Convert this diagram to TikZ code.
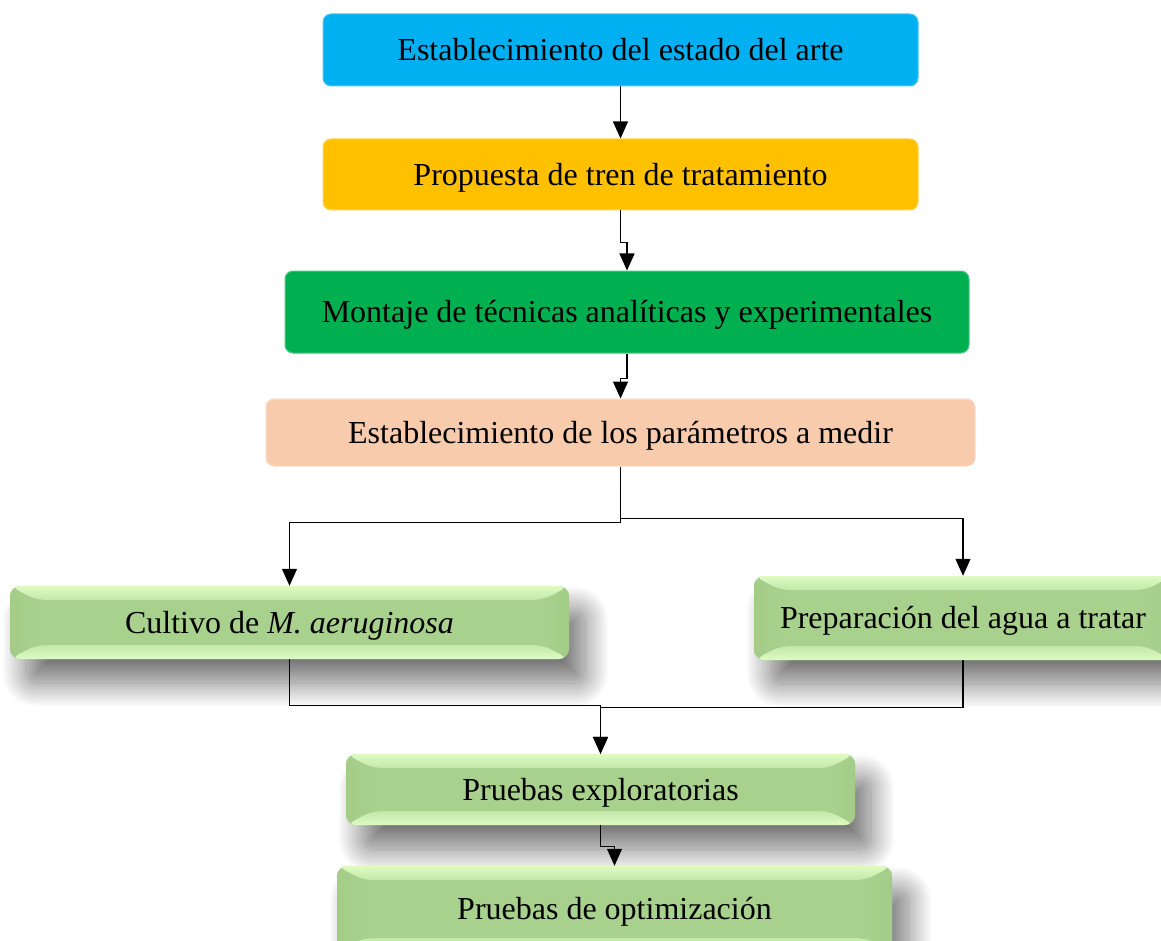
\documentclass[tikz,border=0pt]{standalone}
\usepackage{fontspec}
\setmainfont{Liberation Serif}
\usetikzlibrary{arrows.meta, shadows.blur}

\definecolor{celeste}{HTML}{00B0F0}
\definecolor{ambar}{HTML}{FFC000}
\definecolor{verde}{HTML}{00B050}
\definecolor{durazno}{HTML}{F8CBAD}
\definecolor{gmedio}{HTML}{A9D18E}
\definecolor{gclaro}{HTML}{DDFCC4}
\definecolor{gbisel}{HTML}{A3CC87}

\tikzset{
	texto/.style={inner sep=0pt, text depth=0.25ex, font=\fontsize{32}{38}\selectfont},
	caja/.style={texto, rounded corners=8pt, fill=#1, draw=#1!70!white, line width=1pt},
	cajav/.style={texto, rounded corners=10pt, fill=gmedio,
		blur shadow={shadow xshift=16pt, shadow yshift=-24pt, shadow blur radius=24pt, shadow blur steps=30, shadow opacity=55},
		path picture={
			\coordinate (nw) at (path picture bounding box.north west);
			\coordinate (ne) at (path picture bounding box.north east);
			\coordinate (sw) at (path picture bounding box.south west);
			\coordinate (se) at (path picture bounding box.south east);
			\shade[left color=gbisel, right color=gmedio] (nw) -- ([shift={(26pt,-14pt)}]nw) -- ([shift={(26pt,14pt)}]sw) -- (sw) -- cycle;
			\shade[left color=gmedio, right color=gbisel] (ne) -- ([shift={(-26pt,-14pt)}]ne) -- ([shift={(-26pt,14pt)}]se) -- (se) -- cycle;
			\shade[top color=gclaro, bottom color=gmedio!50!gclaro] (nw) -- (ne) -- ([shift={(-26pt,-14pt)}]ne) -- ([shift={(26pt,-14pt)}]nw) -- cycle;
			\shade[top color=gmedio!50!gclaro, bottom color=gclaro] (sw) -- (se) -- ([shift={(-26pt,14pt)}]se) -- ([shift={(26pt,14pt)}]sw) -- cycle;
		}},
	flecha/.style={-{Triangle[length=17pt,width=15pt]}, line width=1.2pt}
}

\begin{document}
\begin{tikzpicture}[x=1pt, y=-1pt]
	\clip (0,0) rectangle (1161,941);

	\begin{scope}
		\node[caja=celeste, minimum width=595pt, minimum height=72pt] (arte) at (620.5,50) {Establecimiento del estado del arte};
		\node[caja=ambar, minimum width=595pt, minimum height=71pt] (tren) at (620.5,174.5) {Propuesta de tren de tratamiento};
		\node[caja=verde, minimum width=684pt, minimum height=82pt] (montaje) at (627,312) {Montaje de técnicas analíticas y experimentales};
		\node[caja=durazno, minimum width=709pt, minimum height=67pt] (parametros) at (620.5,432.5) {Establecimiento de los parámetros a medir};
	\end{scope}

	\begin{scope}
		\node[cajav, minimum width=559pt, minimum height=73pt] (cultivo) at (289.5,622.5) {Cultivo de \textit{M. aeruginosa}};
		\node[cajav, minimum width=418pt, minimum height=84pt] (agua) at (963,618) {Preparación del agua a tratar};
		\node[cajav, minimum width=509pt, minimum height=71pt] (exploratorias) at (600.5,789.5) {Pruebas exploratorias};
		\node[cajav, minimum width=555pt, minimum height=86pt] (optimizacion) at (614.5,909) {Pruebas de optimización};
	\end{scope}

	\begin{scope}[flecha]
		\draw (arte.south) -- (tren.north);
		\draw (tren.south) -- ++(0,32) -| (montaje.north);
		\draw (montaje.south) -- ++(0,25) -| (parametros.north);
		\draw (parametros.south) -- ++(0,56) -| (cultivo.north);
		\draw (parametros.south) -- ++(0,52) -| (agua.north);
		\draw (cultivo.south) -- ++(0,46) -| (exploratorias.north);
		\draw (agua.south) -- ++(0,47) -| (exploratorias.north);
		\draw (exploratorias.south) -- ++(0,21) -| (optimizacion.north);
	\end{scope}
\end{tikzpicture}
\end{document}
